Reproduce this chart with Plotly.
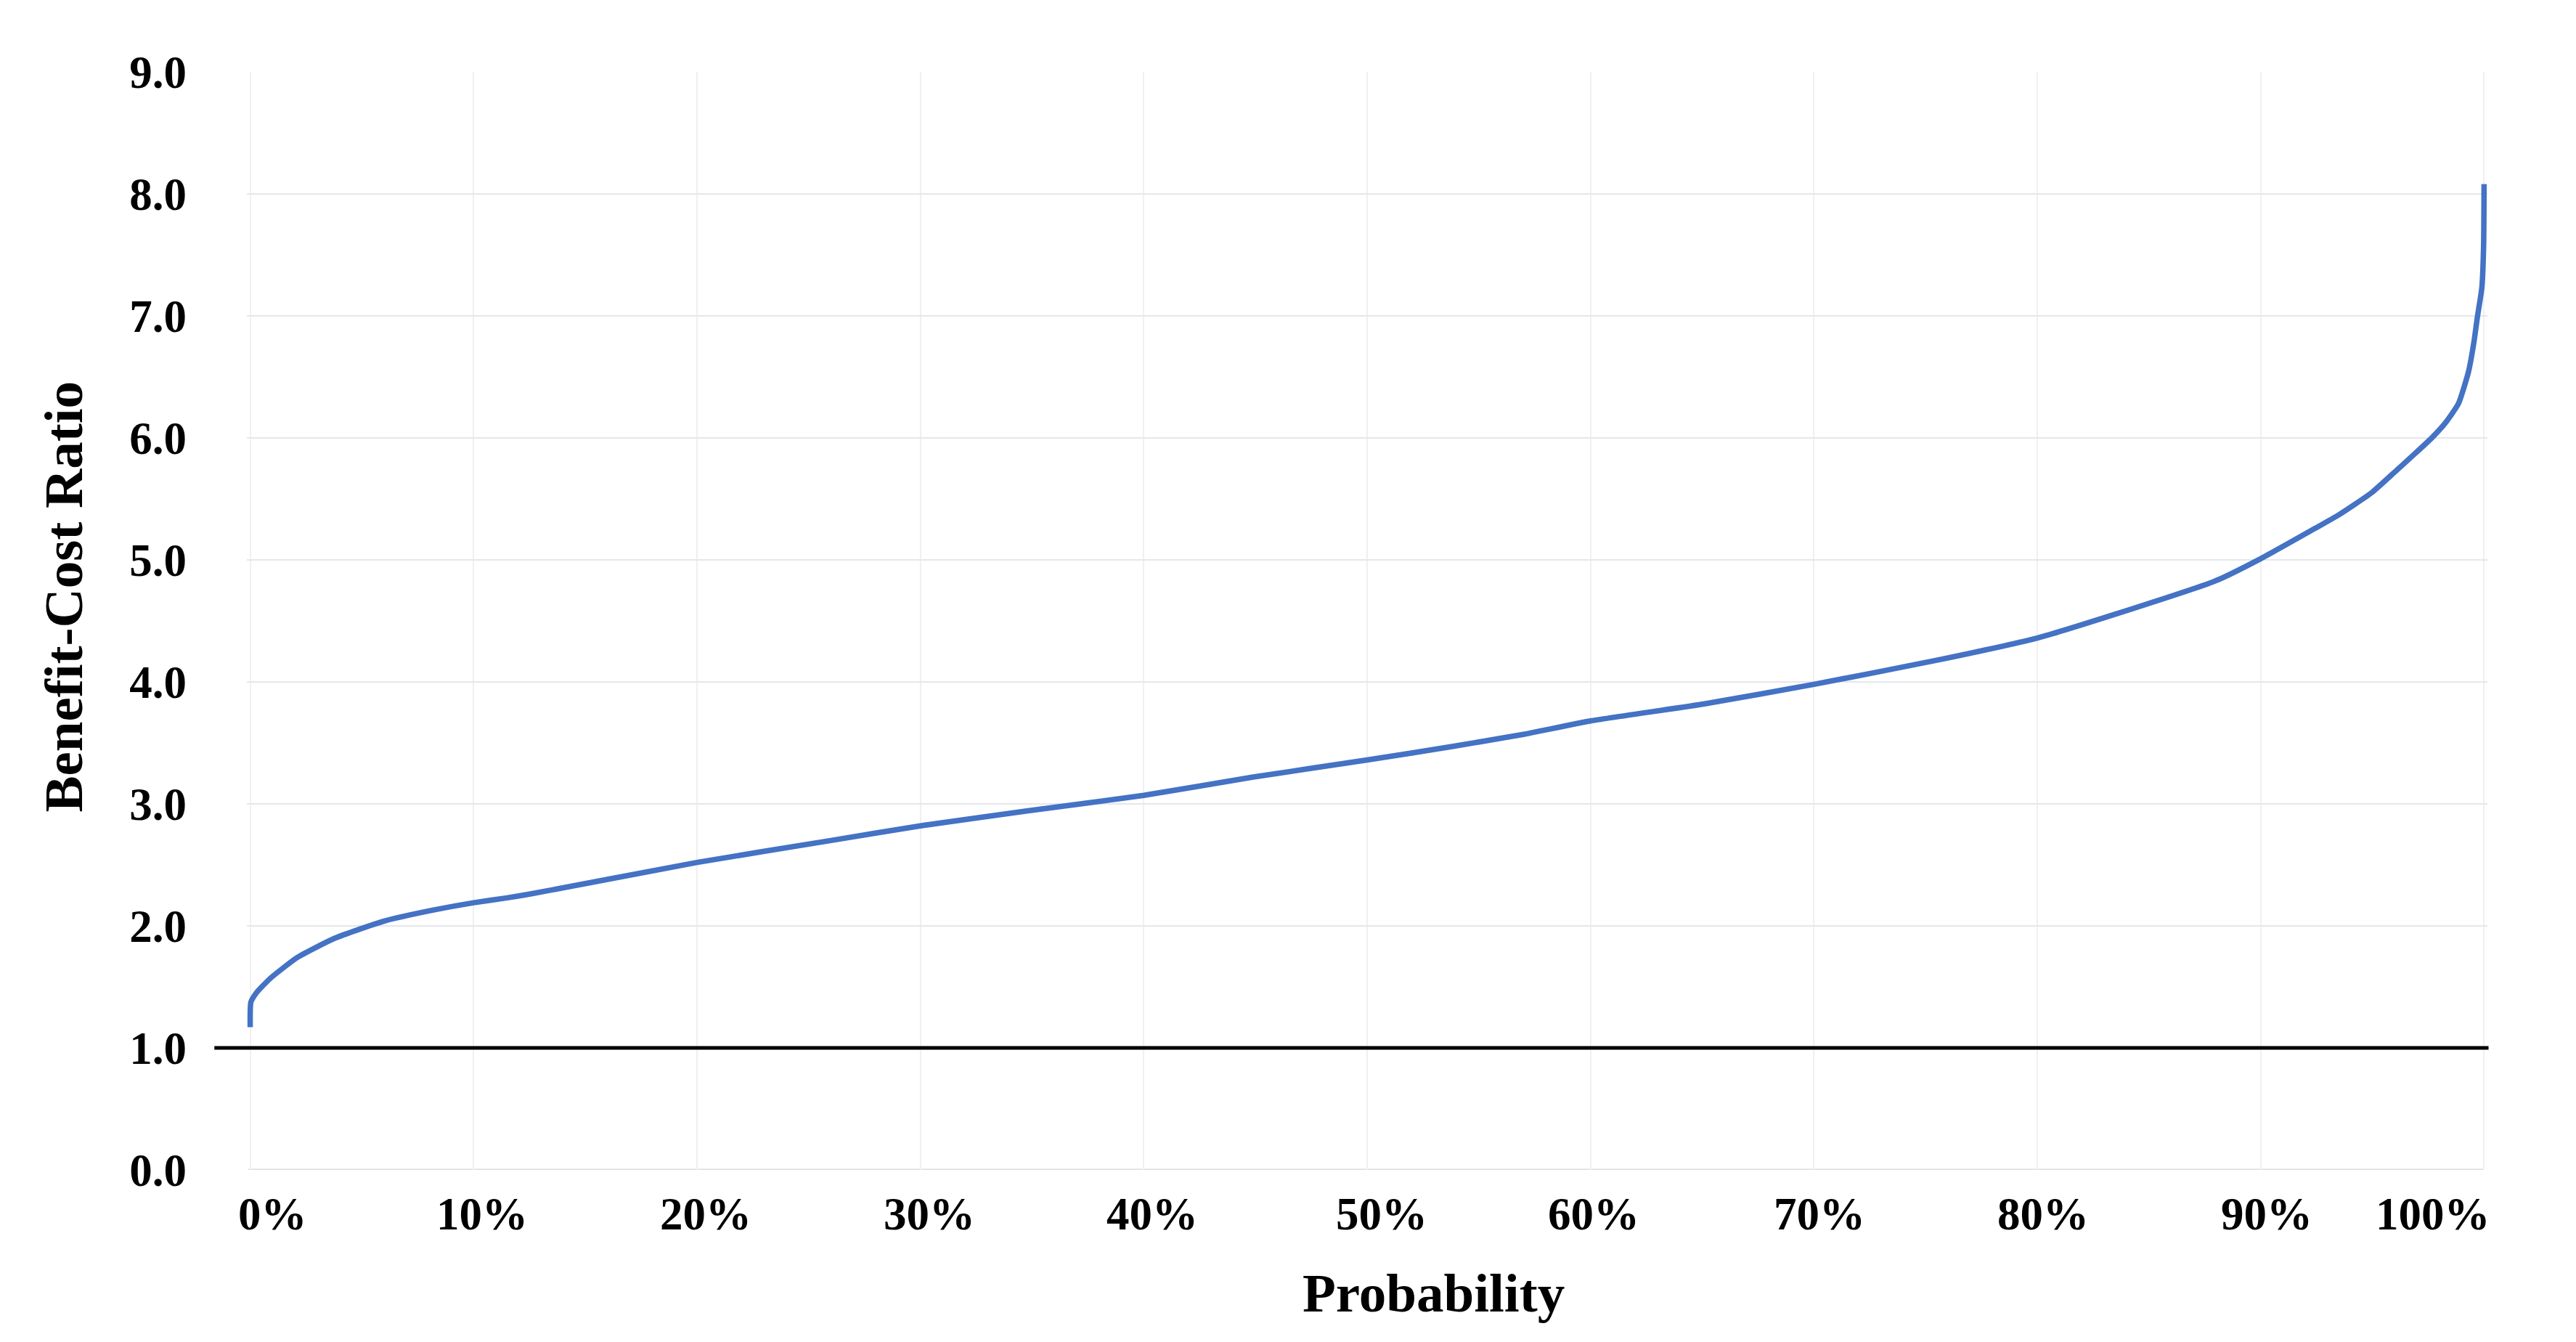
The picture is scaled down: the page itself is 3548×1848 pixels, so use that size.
import plotly.graph_objects as go

# ---- data (probability as fraction, benefit-cost ratio) ----
probability = [0.0, 0.0003, 0.0027, 0.009, 0.021, 0.038, 0.060, 0.082, 0.100, 0.115,
               0.125, 0.200, 0.260, 0.300, 0.347, 0.400, 0.449, 0.500, 0.538, 0.570,
               0.600, 0.651, 0.700, 0.753, 0.800, 0.834, 0.880, 0.900, 0.9245, 0.935,
               0.9496, 0.960, 0.969, 0.9766, 0.983, 0.9885, 0.993, 0.9955, 0.997, 0.999,
               0.9998, 1.0]
bcr = [1.17, 1.375, 1.45, 1.57, 1.74, 1.90, 2.04, 2.13, 2.19, 2.23,
       2.26, 2.52, 2.70, 2.82, 2.94, 3.07, 3.22, 3.36, 3.47, 3.57,
       3.68, 3.82, 3.98, 4.17, 4.36, 4.55, 4.83, 5.01, 5.26, 5.37,
       5.55, 5.72, 5.87, 6.00, 6.13, 6.28, 6.54, 6.79, 6.99, 7.23,
       7.58, 8.08]

x_tickvals = [0.0, 0.1, 0.2, 0.3, 0.4, 0.5, 0.6, 0.7, 0.8, 0.9, 1.0]
x_ticktext = ["0%", "10%", "20%", "30%", "40%", "50%", "60%", "70%", "80%", "90%", "100%"]
x_label_shift = [31, 12, 12, 12, 12, 20, 4, 8, 8, 8, -70]
y_tickvals = [0, 1, 2, 3, 4, 5, 6, 7, 8, 9]
y_ticktext = ["0.0", "1.0", "2.0", "3.0", "4.0", "5.0", "6.0", "7.0", "8.0", "9.0"]
threshold = 1.0

FONT = "Liberation Serif"
W, H = 3548, 1848
L, R, T, B = 340, 122, 99, 237

fig = go.Figure()
fig.add_trace(go.Scatter(
    x=probability, y=bcr, mode="lines",
    line=dict(color="#4472C4", width=7.5, shape="spline", smoothing=0.5),
    showlegend=False, hoverinfo="skip",
))

# threshold line at BCR = 1.0
fig.add_shape(type="line", xref="x domain", yref="y",
              x0=-0.0145, x1=1.0005, y0=threshold, y1=threshold,
              line=dict(color="#000000", width=5), layer="above")

# x tick labels as annotations (Excel-style offsets at the ends)
for v, t, s in zip(x_tickvals, x_ticktext, x_label_shift):
    fig.add_annotation(x=v, y=-0.0403, xref="x", yref="paper", text="<b>%s</b>" % t,
                       showarrow=False, xanchor="center", yanchor="middle", xshift=s,
                       font=dict(family=FONT, size=63, color="#000000"))

# axis titles
fig.add_annotation(x=0.5295, y=-0.1124, xref="paper", yref="paper",
                   text="<b>Probability</b>", showarrow=False,
                   xanchor="center", yanchor="middle",
                   font=dict(family=FONT, size=75, color="#000000"))
fig.add_annotation(x=-0.0817, y=0.522, xref="paper", yref="paper",
                   text="<b>Benefit-Cost Ratio</b>", showarrow=False, textangle=-90,
                   xanchor="center", yanchor="middle",
                   font=dict(family=FONT, size=75, color="#000000"))

fig.update_layout(
    width=W, height=H,
    margin=dict(l=L, r=R, t=T, b=B),
    paper_bgcolor="white", plot_bgcolor="white",
    xaxis=dict(range=[-0.0015, 1.0015], tickvals=x_tickvals, showticklabels=False,
               showgrid=True, gridcolor="#F0F0F2", gridwidth=2, zeroline=False,
               showline=False, ticks=""),
    yaxis=dict(range=[0, 9], tickvals=y_tickvals,
               ticktext=["<b>%s</b>" % t for t in y_ticktext],
               showgrid=True, gridcolor="#E5E7EB", gridwidth=2, zeroline=False,
               showline=False, ticks="", ticklabelstandoff=82,
               tickfont=dict(family=FONT, size=63, color="#000000")),
)
# bottom border at 0.0
fig.add_shape(type="line", xref="x domain", yref="y", x0=0.0005, x1=0.9985, y0=0, y1=0,
              line=dict(color="#DCDCDC", width=3), layer="below")

fig.write_html("out.html", config={"displayModeBar": False},
               post_script="document.body.style.margin='0px';document.body.style.overflow='hidden';")
